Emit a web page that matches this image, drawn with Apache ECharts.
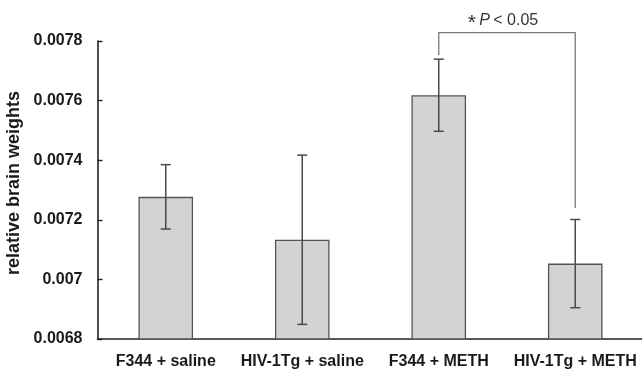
<!DOCTYPE html>
<html>
<head>
<meta charset="utf-8">
<script src="https://cdn.jsdelivr.net/npm/echarts@6/dist/echarts.min.js"></script>
<style>
html,body{margin:0;padding:0;background:#fff;}
#c{width:642px;height:371px;}
</style>
</head>
<body>
<div id="c"></div>
<script>
const categories = ['F344 + saline', 'HIV-1Tg + saline', 'F344 + METH', 'HIV-1Tg + METH'];
const means = [0.007277, 0.007133, 0.007618, 0.007053];
const errors = [0.000108, 0.000284, 0.000121, 0.000148];
const yTickLabels = ['0.0068', '0.007', '0.0072', '0.0074', '0.0076', '0.0078'];
// significance bracket: [fromIndex, toIndex, leftEnd, rightEnd, top]
const sigBracket = [2, 3, 0.007753, 0.00724, 0.007828];

const chart = echarts.init(document.getElementById('c'), null, {renderer: 'canvas'});
const font = 'Liberation Sans, Arial, sans-serif';

const option = {
  backgroundColor: '#ffffff',
  animation: false,
  grid: {left: 97.5, right: -1.5, top: 41, bottom: 32, containLabel: false, outerBoundsMode: 'none'},
  xAxis: {
    type: 'category',
    data: categories,
    boundaryGap: true,
    axisLine: {lineStyle: {color: '#222', width: 1.6}},
    axisTick: {inside: true, length: 5, alignWithLabel: false, lineStyle: {color: '#222', width: 1.4}},
    axisLabel: {color: '#1a1a1a', fontFamily: font, fontWeight: 'bold', fontSize: 16, margin: 15, interval: 0}
  },
  yAxis: {
    type: 'value',
    min: 0.0068,
    max: 0.0078,
    interval: 0.0002,
    name: 'relative brain weights',
    nameLocation: 'middle',
    nameGap: 73,
    nameTextStyle: {color: '#1a1a1a', fontFamily: font, fontWeight: 'bold', fontSize: 18, padding: [0, 0, 0, 14]},
    splitLine: {show: false},
    axisLine: {show: true, lineStyle: {color: '#222', width: 1.6}},
    axisTick: {show: true, inside: true, length: 5, lineStyle: {color: '#222', width: 1.4}},
    axisLabel: {
      color: '#1a1a1a', fontFamily: font, fontWeight: 'bold', fontSize: 16, margin: 15,
      formatter: function (v) {
        const idx = Math.round((v - 0.0068) / 0.0002);
        return yTickLabels[idx] !== undefined ? yTickLabels[idx] : '';
      }
    }
  },
  series: [
    {
      type: 'bar',
      data: means,
      barWidth: '40%',
      itemStyle: {color: '#d3d3d3', borderColor: '#555', borderWidth: 1.3},
      z: 2
    },
    {
      type: 'custom',
      z: 3,
      data: means.map((m, i) => [i, m - errors[i], m + errors[i]]),
      encode: {x: 0, y: [1, 2]},
      renderItem: function (params, api) {
        const x = api.value(0);
        const lo = api.coord([x, api.value(1)]);
        const hi = api.coord([x, api.value(2)]);
        const hw = 5;
        const style = {stroke: '#4a4a4a', lineWidth: 1.5};
        return {
          type: 'group',
          children: [
            {type: 'line', shape: {x1: hi[0], y1: hi[1], x2: lo[0], y2: lo[1]}, style: style},
            {type: 'line', shape: {x1: hi[0] - hw, y1: hi[1], x2: hi[0] + hw, y2: hi[1]}, style: style},
            {type: 'line', shape: {x1: lo[0] - hw, y1: lo[1], x2: lo[0] + hw, y2: lo[1]}, style: style}
          ]
        };
      }
    },
    {
      type: 'custom',
      z: 4,
      clip: false,
      silent: true,
      data: [sigBracket],
      renderItem: function (params, api) {
        const a = api.value(0), b = api.value(1);
        const pL = api.coord([a, api.value(2)]);
        const pR = api.coord([b, api.value(3)]);
        const top = api.coord([a, api.value(4)])[1];
        const style = {stroke: '#7a7a7a', lineWidth: 1.3, fill: null};
        return {
          type: 'group',
          children: [
            {type: 'polyline', shape: {points: [[pL[0], pL[1]], [pL[0], top], [pR[0], top], [pR[0], pR[1]]]}, style: style},
            {
              type: 'text',
              x: (pL[0] + pR[0]) / 2 - 4,
              y: top - 12,
              style: {
                text: '{s|*} {i|P} {n|< 0.05}',
                align: 'center',
                verticalAlign: 'middle',
                rich: {
                  s: {fontSize: 21, fontFamily: font, fill: '#333', padding: [6, 0, 0, 0]},
                  i: {fontSize: 16, fontStyle: 'italic', fontFamily: font, fill: '#333'},
                  n: {fontSize: 16, fontFamily: font, fill: '#333'}
                }
              }
            }
          ]
        };
      }
    }
  ]
};
chart.setOption(option);
</script>
</body>
</html>
